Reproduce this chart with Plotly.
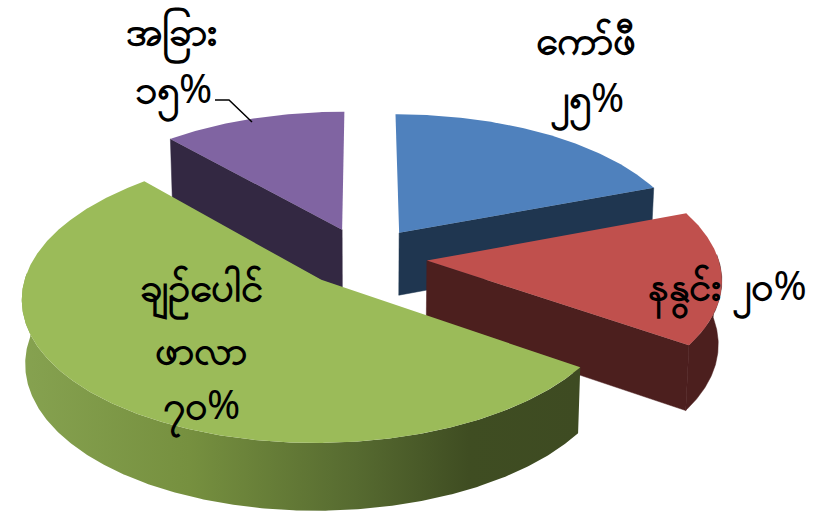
import numpy as np
import plotly.graph_objects as go

categories = ["ကော်ဖီ", "နနွင်း", "ချဉ်ပေါင် ဖာလာ", "အခြား"]
values = [25, 20, 70, 15]
digit_labels = ["၂၅", "၂၀", "၇၀", "၁၅"]
top_colors = ["#4F81BD", "#C0504D", "#9BBB59", "#8064A2"]
side_colors = ["#1F3650", "#4C1F1E", "#3E4B22", "#332842"]

W, H = 825, 513
CX, CY = 364, 257
A, B = 291, 138
K = 0.118
EXPLODE = 0.217
DEPTH = 63
TAPER = 0.99


def project(X, Y, bottom=False):
    s = 1 / (1 + K * np.asarray(Y))
    x = A * np.asarray(X) * s
    y = -B * np.asarray(Y) * s
    if bottom:
        x = x * TAPER
        y = y + DEPTH * np.sqrt(s)
    return CX + x, CY + y


fig = go.Figure()


def poly(xs, ys, color=None, gradient=None, edge=0):
    kw = dict(fillgradient=gradient) if gradient else dict(fillcolor=color)
    fig.add_trace(go.Scatter(x=xs, y=ys, mode="lines", fill="toself",
                             line=dict(width=edge, color=color), hoverinfo="skip", showlegend=False, **kw))


total = sum(values)
edges = np.radians(np.cumsum([0] + values) / total * 360)
slices = []
for i in range(len(values)):
    t1, t2 = edges[i], edges[i + 1]
    mid = (t1 + t2) / 2
    slices.append((i, t1, t2, EXPLODE * np.sin(mid), EXPLODE * np.cos(mid)))

green_gradient = dict(
    type="horizontal",
    colorscale=[[0, "#86A250"], [0.3, "#76903F"], [0.6, "#566A30"], [0.8, "#3F4D22"], [1, "#3E4B22"]],
)

for i, t1, t2, ox, oy in [slices[k] for k in (0, 3, 1, 2)]:
    n = max(12, int(np.degrees(t2 - t1) * 2))
    th = np.linspace(t1, t2, n)
    X, Y = ox + np.sin(th), oy + np.cos(th)
    tx, ty = project(X, Y)
    bx, by = project(X, Y, True)
    ax, ay = project(ox, oy)
    abx, aby = project(ox, oy, True)

    # radial faces facing the viewer
    if np.sin(t1) < -1e-9:
        poly([ax, tx[0], bx[0], abx, ax], [ay, ty[0], by[0], aby, ay], side_colors[i], edge=0.5)
    if np.sin(t2) > 1e-9:
        poly([ax, tx[-1], bx[-1], abx, ax], [ay, ty[-1], by[-1], aby, ay], side_colors[i], edge=0.5)
    # outer rim
    front = np.cos(th) < 0.05
    if front.any():
        rx = np.r_[tx[front], bx[front][::-1], tx[front][0]]
        ry = np.r_[ty[front], by[front][::-1], ty[front][0]]
        if i == 2:
            poly(rx, ry, gradient=green_gradient)
        else:
            poly(rx, ry, side_colors[i], edge=0.5)
    # top face
    poly(np.r_[ax, tx, ax], np.r_[ay, ty, ay], top_colors[i])

# leader line for the smallest slice
fig.add_trace(go.Scatter(x=[215, 229, 252], y=[100, 100, 122], mode="lines",
                         line=dict(color="black", width=1.5), hoverinfo="skip", showlegend=False))


def pct(i):
    return "<b>" + digit_labels[i] + "</b>%"


label_lines = [
    ("<b>" + categories[0] + "</b>", 586, 38), (pct(0), 587, 100),
    ("<b>" + categories[1] + "</b> " + pct(1), 727, 288),
    ("<b>" + categories[2].split()[0] + "</b>", 201, 289),
    ("<b>" + categories[2].split()[1] + "</b>", 201, 348), (pct(2), 201, 407),
    ("<b>" + categories[3] + "</b>", 172, 33), (pct(3), 173, 91),
]
for text, x, y in label_lines:
    fig.add_annotation(x=x, y=y, xref="x", yref="y", text=text, showarrow=False,
                       xanchor="center", yanchor="middle",
                       font=dict(family="Noto Sans, DejaVu Sans, sans-serif", size=40, color="black"))

fig.update_xaxes(range=[0, W], visible=False, fixedrange=True)
fig.update_yaxes(range=[H, 0], visible=False, fixedrange=True)
fig.update_layout(width=W, height=H, margin=dict(l=0, r=0, t=0, b=0),
                  paper_bgcolor="white", plot_bgcolor="white", showlegend=False)
fig.write_html("out.html", config=dict(displayModeBar=False),
               post_script="document.body.style.margin='0';document.documentElement.style.overflow='hidden';")
